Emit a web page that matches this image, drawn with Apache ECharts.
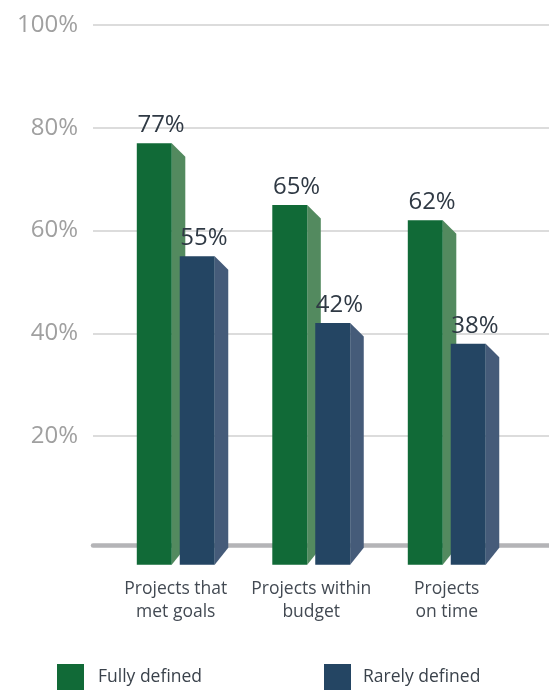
<!DOCTYPE html>
<html>
<head>
<meta charset="utf-8">
<script src="https://cdn.jsdelivr.net/npm/echarts@6/dist/echarts.min.js"></script>
<style>
html,body{margin:0;padding:0;background:#fff;}
#chart{width:549px;height:690px;}
</style>
</head>
<body>
<div id="chart"></div>
<script>
const categories = ['Projects that\nmet goals', 'Projects within\nbudget', 'Projects\non time'];
const seriesNames = ['Fully defined', 'Rarely defined'];
const fullyDefined = [77, 65, 62];
const rarelyDefined = [55, 42, 38];

const FONT = 'Open Sans';
const BASE = -5;
const colors = [
  { front: '#116a37', side: '#538a5f' },
  { front: '#244563', side: '#455b79' }
];

function makeRender(sIdx) {
  return function (params, api) {
    const idx = api.value(0);
    const v = api.value(1);
    const topPt = api.coord([idx, v]);
    const basePt = api.coord([idx, BASE]);
    const band = api.size([1, 0])[0];
    const fw = band * 0.258;
    const gap = band * 0.059;
    const sw = band * 0.1;
    const cx = topPt[0];
    const x1 = sIdx === 0 ? cx - gap / 2 - fw : cx + gap / 2;
    const x2 = x1 + fw;
    const top = topPt[1];
    const bot = basePt[1];
    return {
      type: 'group',
      children: [
        {
          type: 'polygon',
          shape: { points: [[x2, top], [x2 + sw, top + 13.5], [x2 + sw, bot - 17], [x2, bot]] },
          style: { fill: colors[sIdx].side }
        },
        {
          type: 'rect',
          shape: { x: x1, y: top, width: fw, height: bot - top },
          style: { fill: colors[sIdx].front }
        },
        {
          type: 'text',
          style: {
            text: v + '%',
            x: (x1 + x2 + sw) / 2,
            y: top - 18,
            align: 'center',
            verticalAlign: 'middle',
            fontFamily: FONT,
            fontSize: 24,
            fontWeight: 500,
            fill: '#2f3944'
          }
        }
      ]
    };
  };
}

const chart = echarts.init(document.getElementById('chart'), null, { renderer: 'canvas' });
chart.setOption({
  animation: false,
  backgroundColor: '#fff',
  grid: [
    { left: 93, right: 0, top: 25, bottom: 151 },
    { left: 108, right: 34.5, top: 25, bottom: 151 }
  ],
  xAxis: [
    {
      type: 'category', gridIndex: 0, data: categories,
      offset: 6,
      axisLine: { show: true, onZero: false, lineStyle: { color: '#b4b4b7', width: 4.5 } },
      axisTick: { show: false }, axisLabel: { show: false }, splitLine: { show: false }
    },
    {
      type: 'category', gridIndex: 1, data: categories,
      axisLine: { show: false }, axisTick: { show: false },
      axisLabel: {
        margin: 39, fontFamily: FONT, fontSize: 17.5, lineHeight: 23, color: '#434a53', interval: 0
      }
    }
  ],
  yAxis: [
    {
      type: 'value', gridIndex: 0, min: 0, max: 100, interval: 20,
      axisLine: { show: false }, axisTick: { show: false },
      axisLabel: {
        showMinLabel: false, margin: 15, fontFamily: FONT, fontSize: 24, color: '#a0a0a0',
        formatter: (val) => val + '%'
      },
      splitLine: { show: true, showMinLine: false, lineStyle: { color: '#d0d0d0', width: 1.5 } }
    },
    {
      type: 'value', gridIndex: 1, min: 0, max: 100, interval: 20, show: false,
      splitLine: { show: false }
    }
  ],
  legend: [
    {
      data: [seriesNames[0]], left: 52, top: 659, itemWidth: 27, itemHeight: 27,
      icon: 'rect', textStyle: { fontFamily: FONT, fontSize: 17.5, color: '#3a424b', padding: [0, 0, 0, 9] }
    },
    {
      data: [seriesNames[1]], left: 319, top: 659, itemWidth: 27, itemHeight: 27,
      icon: 'rect', textStyle: { fontFamily: FONT, fontSize: 17.5, color: '#3a424b', padding: [0, 0, 0, 7] }
    }
  ],
  series: [
    {
      name: seriesNames[0], type: 'custom', xAxisIndex: 1, yAxisIndex: 1,
      renderItem: makeRender(0), itemStyle: { color: colors[0].front },
      encode: { x: 0, y: 1 },
      data: fullyDefined.map((v, i) => [i, v])
    },
    {
      name: seriesNames[1], type: 'custom', xAxisIndex: 1, yAxisIndex: 1,
      renderItem: makeRender(1), itemStyle: { color: colors[1].front },
      encode: { x: 0, y: 1 },
      data: rarelyDefined.map((v, i) => [i, v])
    }
  ]
});
</script>
</body>
</html>
